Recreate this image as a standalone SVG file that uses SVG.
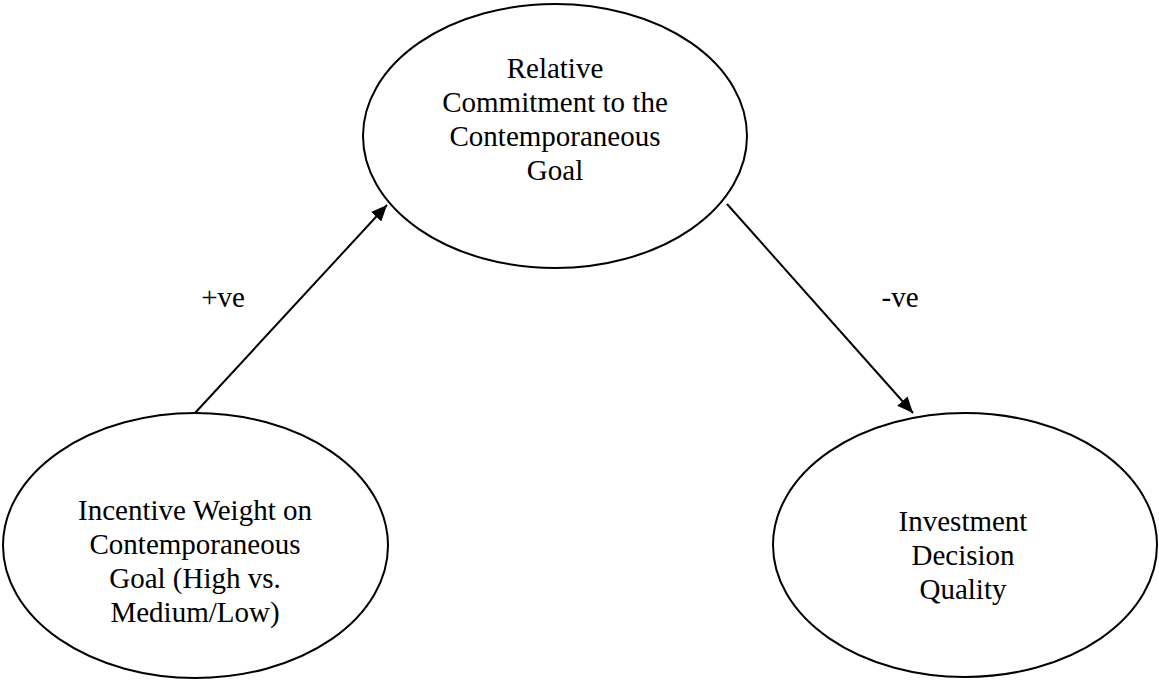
<svg xmlns="http://www.w3.org/2000/svg" width="1159" height="684" viewBox="0 0 1159 684">
  <style>
    .node { fill: #ffffff; stroke: #000000; stroke-width: 2; }
    .lbl { font-family: "Liberation Serif", "Times New Roman", serif; font-size: 29px; fill: #000000; text-anchor: middle; }
    .edge { stroke: #000000; stroke-width: 2; fill: none; }
  </style>
  <defs>
    <marker id="arrow" markerUnits="userSpaceOnUse" markerWidth="16" markerHeight="14" refX="16" refY="7" orient="auto">
      <path d="M0,0 L16,7 L0,14 z" fill="#000000"/>
    </marker>
  </defs>
  <rect x="0" y="0" width="1159" height="684" fill="#ffffff"/>

  <g id="node-commitment">
    <ellipse class="node" cx="555" cy="136" rx="192" ry="132"/>
    <text class="lbl" x="555" y="78">Relative</text>
    <text class="lbl" x="555" y="112">Commitment to the</text>
    <text class="lbl" x="555" y="146">Contemporaneous</text>
    <text class="lbl" x="555" y="180">Goal</text>
  </g>

  <g id="node-incentive">
    <ellipse class="node" cx="195.5" cy="545.5" rx="192.5" ry="132.5"/>
    <text class="lbl" x="195" y="520">Incentive Weight on</text>
    <text class="lbl" x="195" y="554">Contemporaneous</text>
    <text class="lbl" x="195" y="588">Goal (High vs.</text>
    <text class="lbl" x="195" y="622">Medium/Low)</text>
  </g>

  <g id="node-quality">
    <ellipse class="node" cx="965" cy="545" rx="192" ry="132"/>
    <text class="lbl" x="963" y="531">Investment</text>
    <text class="lbl" x="963" y="565">Decision</text>
    <text class="lbl" x="963" y="599">Quality</text>
  </g>

  <g id="connectors">
    <line class="edge" x1="195" y1="413" x2="387" y2="205" marker-end="url(#arrow)"/>
    <line class="edge" x1="727" y1="204" x2="913" y2="413" marker-end="url(#arrow)"/>
    <text class="lbl" x="223" y="307">+ve</text>
    <text class="lbl" x="900" y="307">-ve</text>
  </g>
</svg>
